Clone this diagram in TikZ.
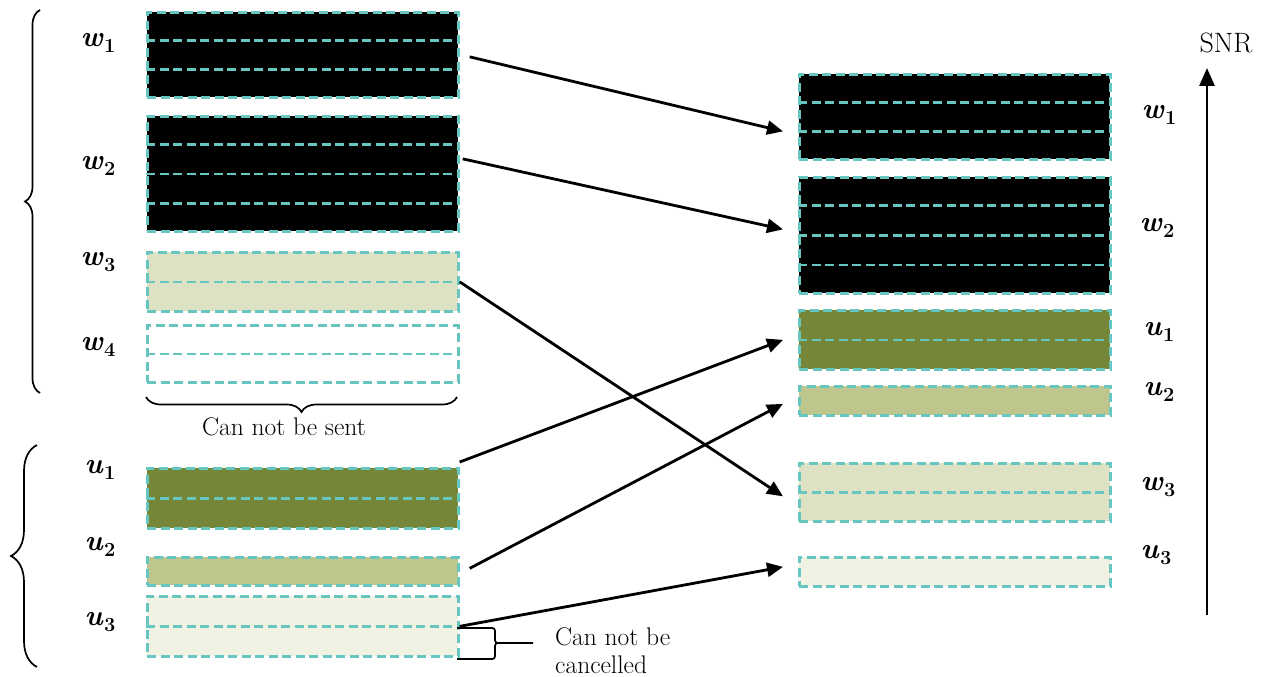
\documentclass[tikz,border=0pt]{standalone}
\usepackage{fontspec}
\usetikzlibrary{arrows.meta,calc,decorations.pathreplacing}
\definecolor{cyanl}{RGB}{102,199,192}
\definecolor{oliveD}{RGB}{118,134,56}
\definecolor{oliveM}{RGB}{190,198,142}
\definecolor{oliveL}{RGB}{220,226,195}
\definecolor{oliveXL}{RGB}{240,243,228}
\tikzset{
  bar/.style={draw=cyanl, dash pattern=on 9pt off 4.5pt, line width=2.7pt, inner sep=0pt,
              anchor=north west, minimum width=311pt},
  div/.style={draw=cyanl, dash pattern=on 9pt off 4.5pt, line width=2.7pt},
  lab/.style={font=\fontsize{29}{30}\selectfont, inner sep=0pt},
  txt/.style={font=\fontsize{25.5}{28}\selectfont, inner sep=0pt},
  conn/.style={line width=2.8pt, -{Triangle[length=16pt,width=14pt]}},
  br/.style={line width=1.7pt, decorate},
}
\newcommand{\hdiv}[2]{\draw[div] ($(#1.north west)!#2!(#1.south west)$) -- ($(#1.north east)!#2!(#1.south east)$);}
\newcommand{\lbl}[2]{\textbf{\textit{#1}}\kern0.5pt\raisebox{-6pt}{\fontsize{20}{20}\selectfont\textbf{#2}}}
\begin{document}
\begin{tikzpicture}[x=1pt,y=-1pt]
\useasboundingbox (0,0) rectangle (1267,677);
% left column
\node[bar, fill=black, minimum height=85pt] (lw1) at (146,11) {};
\hdiv{lw1}{1/3}\hdiv{lw1}{2/3}
\node[bar, fill=black, minimum height=115pt] (lw2) at (146,115) {};
\hdiv{lw2}{1/4}\hdiv{lw2}{2/4}\hdiv{lw2}{3/4}
\node[bar, fill=oliveL, minimum height=59pt] (lw3) at (146,251) {};
\hdiv{lw3}{1/2}
\node[bar, fill=white, minimum height=57pt] (lw4) at (146,324) {};
\hdiv{lw4}{1/2}
\node[bar, fill=oliveD, minimum height=60pt] (lu1) at (146,467) {};
\hdiv{lu1}{1/2}
\node[bar, fill=oliveM, minimum height=28pt] (lu2) at (146,556) {};
\node[bar, fill=oliveXL, minimum height=60pt] (lu3) at (146,595) {};
\hdiv{lu3}{1/2}
% right column
\node[bar, fill=black, minimum height=85pt] (rw1) at (798,73) {};
\hdiv{rw1}{1/3}\hdiv{rw1}{2/3}
\node[bar, fill=black, minimum height=116pt] (rw2) at (798,176) {};
\hdiv{rw2}{1/4}\hdiv{rw2}{2/4}\hdiv{rw2}{3/4}
\node[bar, fill=oliveD, minimum height=59pt] (ru1) at (798,309) {};
\hdiv{ru1}{1/2}
\node[bar, fill=oliveM, minimum height=29pt] (ru2) at (798,385) {};
\node[bar, fill=oliveL, minimum height=58pt] (rw3) at (798,462) {};
\hdiv{rw3}{1/2}
\node[bar, fill=oliveXL, minimum height=29pt] (ru3) at (798,556) {};
% left labels
\node[lab] (tw1) at (98,43) {\lbl{w}{1}};
\node[lab] (tw2) at (98,166) {\lbl{w}{2}};
\node[lab] (tw3) at (98,262) {\lbl{w}{3}};
\node[lab] (tw4) at (98,347) {\lbl{w}{4}};
\node[lab] (tu1) at (100,470) {\lbl{u}{1}};
\node[lab] (tu2) at (100,547) {\lbl{u}{2}};
\node[lab] (tu3) at (100,622) {\lbl{u}{3}};
% right labels
\node[lab] (sw1) at (1159,115) {\lbl{w}{1}};
\node[lab] (sw2) at (1157,228) {\lbl{w}{2}};
\node[lab] (su1) at (1159,332) {\lbl{u}{1}};
\node[lab] (su2) at (1159,392) {\lbl{u}{2}};
\node[lab] (sw3) at (1158,487) {\lbl{w}{3}};
\node[lab] (su3) at (1156,555) {\lbl{u}{3}};
% braces
\draw[br, decoration={brace, amplitude=15pt}] (40,393) -- (40,10);
\draw[br, decoration={brace, amplitude=26pt}] (37,667) -- (37,445);
\draw[br, decoration={brace, amplitude=15pt}] (457,397) -- (146,397);
\node[txt] (sent) at (284,427) {Can not be sent};
\coordinate (cb) at (533,643);
\draw[line width=1.7pt] (457,628) -- (489,628) .. controls (495,628) .. (495,634) -- (495,637) .. controls (495,643) .. (501,643) -- (cb);
\draw[line width=1.7pt] (457,659) -- (489,659) .. controls (495,659) .. (495,653) -- (495,649) .. controls (495,643) .. (501,643);
\node[txt, anchor=west, align=left] (canc) at (555,651) {Can not be\\cancelled};
% connectors
\draw[conn] ($(lw1.east)+(10,2)$) -- ($(rw1.west)+(-15,14.5)$);
\draw[conn] ($(lw2.east)+(3,-15)$) -- ($(rw2.west)+(-15,-6)$);
\draw[conn] (lw3.east) -- ($(rw3.west)+(-15,4)$);
\draw[conn] ($(lu1.north east)+(0,-5)$) -- ($(ru1.west)+(-15,0)$);
\draw[conn] ($(lu2.east)+(10,-3)$) -- ($(ru2.west)+(-15,3)$);
\draw[conn] (lu3.east) -- ($(ru3.west)+(-15,-5)$);
% SNR axis
\coordinate (snrb) at (1207,615);
\coordinate (snrt) at (1207,68);
\draw[line width=2.8pt, -{Triangle[length=18pt,width=15pt]}] (snrb) -- (snrt);
\node[txt, font=\fontsize{28}{30}\selectfont] (snr) at (1226,43) {SNR};
\end{tikzpicture}
\end{document}
